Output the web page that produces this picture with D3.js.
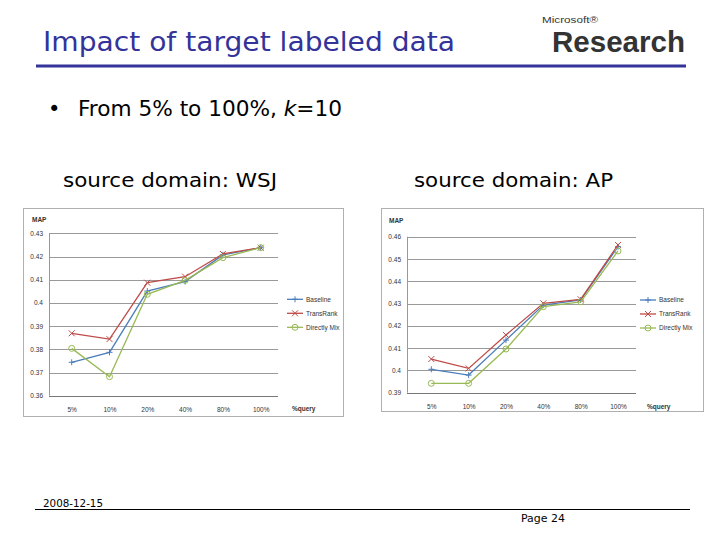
<!DOCTYPE html>
<html>
<head>
<meta charset="utf-8">
<script src="https://cdn.jsdelivr.net/npm/d3@7"></script>
<style>
  body { margin: 0; background: #fff; }
  svg { display: block; }
</style>
</head>
<body>
<div id="slide"></div>
<script>
// categories and series
const queryPct = ["5%", "10%", "20%", "40%", "80%", "100%"];
const seriesNames = ["Baseline", "TransRank", "Directly Mix"];

const wsjBaseline = [0.3744, 0.3787, 0.4051, 0.4092, 0.4207, 0.4238];
const wsjTransRank = [0.3869, 0.3844, 0.4087, 0.4113, 0.4211, 0.4238];
const wsjDirectMix = [0.3804, 0.3682, 0.4037, 0.4097, 0.4195, 0.4238];
const wsjTicks = [0.36, 0.37, 0.38, 0.39, 0.4, 0.41, 0.42, 0.43];

const apBaseline = [0.4005, 0.3979, 0.4136, 0.4293, 0.4316, 0.4555];
const apTransRank = [0.4051, 0.4009, 0.4159, 0.4301, 0.4319, 0.4563];
const apDirectMix = [0.3942, 0.3942, 0.4096, 0.4286, 0.4308, 0.4536];
const apTicks = [0.39, 0.4, 0.41, 0.42, 0.43, 0.44, 0.45, 0.46];

const colors = ["#4a7ebb", "#be4b48", "#98b954"];
const navy = "#333399";

const svg = d3.select("#slide").append("svg")
  .attr("width", 720)
  .attr("height", 540);

// title
svg.append("text")
  .attr("x", 43).attr("y", 51)
  .attr("font-family", "DejaVu Sans")
  .attr("font-size", 26)
  .attr("textLength", 412)
  .attr("lengthAdjust", "spacingAndGlyphs")
  .attr("fill", navy)
  .text("Impact of target labeled data");

svg.append("line")
  .attr("x1", 36).attr("x2", 686)
  .attr("y1", 66).attr("y2", 66)
  .attr("stroke", navy).attr("stroke-width", 3);

// logo
svg.append("text")
  .attr("x", 542).attr("y", 23)
  .attr("font-family", "Liberation Sans")
  .attr("font-size", 9)
  .attr("textLength", 56)
  .attr("lengthAdjust", "spacingAndGlyphs")
  .attr("fill", "#333")
  .text("Microsoft\u00AE");
svg.append("text")
  .attr("x", 552).attr("y", 52)
  .attr("font-family", "Liberation Sans")
  .attr("font-weight", "bold")
  .attr("font-size", 30)
  .attr("textLength", 133)
  .attr("lengthAdjust", "spacingAndGlyphs")
  .attr("fill", "#333")
  .text("Research");

// bullet
svg.append("text")
  .attr("x", 48).attr("y", 116)
  .attr("font-family", "DejaVu Sans")
  .attr("font-size", 21)
  .text("\u2022");
const bullet = svg.append("text")
  .attr("x", 78).attr("y", 116)
  .attr("font-family", "DejaVu Sans")
  .attr("font-size", 21)
  .attr("textLength", 264)
  .attr("lengthAdjust", "spacingAndGlyphs")
  .attr("fill", "#000");
bullet.append("tspan").text("From 5% to 100%, ");
bullet.append("tspan").attr("font-style", "italic").text("k");
bullet.append("tspan").text("=10");

svg.append("text")
  .attr("x", 63).attr("y", 187)
  .attr("font-family", "DejaVu Sans")
  .attr("font-size", 20)
  .attr("textLength", 214)
  .attr("lengthAdjust", "spacingAndGlyphs")
  .text("source domain: WSJ");
svg.append("text")
  .attr("x", 414).attr("y", 187)
  .attr("font-family", "DejaVu Sans")
  .attr("font-size", 20)
  .attr("textLength", 199)
  .attr("lengthAdjust", "spacingAndGlyphs")
  .text("source domain: AP");

// footer
svg.append("text")
  .attr("x", 43).attr("y", 507)
  .attr("font-family", "DejaVu Sans")
  .attr("font-size", 11)
  .attr("textLength", 60)
  .attr("lengthAdjust", "spacingAndGlyphs")
  .text("2008-12-15");
svg.append("line")
  .attr("x1", 35).attr("x2", 690)
  .attr("y1", 509.5).attr("y2", 509.5)
  .attr("stroke", "#000").attr("stroke-width", 1);
svg.append("text")
  .attr("x", 521).attr("y", 522)
  .attr("font-family", "DejaVu Sans")
  .attr("font-size", 11)
  .attr("textLength", 44)
  .attr("lengthAdjust", "spacingAndGlyphs")
  .text("Page 24");

function drawChart(cfg) {
  const g = svg.append("g");

  g.append("rect")
    .attr("x", cfg.frame[0]).attr("y", cfg.frame[1])
    .attr("width", cfg.frame[2]).attr("height", cfg.frame[3])
    .attr("fill", "#fff")
    .attr("stroke", "#b0b0b0");

  const x = d3.scalePoint()
    .domain(queryPct)
    .range([cfg.xFirst, cfg.xLast]);

  const y = d3.scaleLinear()
    .domain(d3.extent(cfg.ticks))
    .range([cfg.yBottom, cfg.yTop]);

  // gridlines
  g.append("g")
    .selectAll("line")
    .data(cfg.ticks)
    .join("line")
    .attr("x1", cfg.left).attr("x2", cfg.right)
    .attr("y1", d => Math.round(y(d)) + 0.5)
    .attr("y2", d => Math.round(y(d)) + 0.5)
    .attr("stroke", (d, i) => i === 0 ? "#777" : "#999")
    .attr("stroke-width", 1);

  g.append("line")
    .attr("x1", cfg.left + 0.5).attr("x2", cfg.left + 0.5)
    .attr("y1", y(cfg.ticks[cfg.ticks.length - 1]))
    .attr("y2", y(cfg.ticks[0]))
    .attr("stroke", "#999");

  const yAxis = g.append("g")
    .attr("transform", `translate(${cfg.left - 3},0)`)
    .call(d3.axisLeft(y).tickValues(cfg.ticks).tickSize(0).tickFormat(d => d3.format("")(+d.toFixed(2))));
  yAxis.select(".domain").remove();

  const xAxis = g.append("g")
    .attr("transform", `translate(0,${cfg.yBottom + 9})`)
    .call(d3.axisBottom(x).tickSize(0));
  xAxis.select(".domain").remove();

  g.selectAll(".tick text")
    .attr("font-family", "Liberation Sans")
    .attr("font-size", 6.5)
    .attr("fill", "#333");

  g.append("text")
    .attr("x", cfg.mapLabel[0]).attr("y", cfg.mapLabel[1])
    .attr("font-family", "Liberation Sans")
    .attr("font-size", 6.5)
    .attr("font-weight", "bold")
    .attr("fill", "#333")
    .text("MAP");

  g.append("text")
    .attr("x", cfg.queryLabel[0]).attr("y", cfg.queryLabel[1])
    .attr("font-family", "Liberation Sans")
    .attr("font-size", 6.5)
    .attr("font-weight", "bold")
    .attr("fill", "#333")
    .text("%query");

  const line = d3.line()
    .x((d, i) => x(queryPct[i]))
    .y(d => y(d));

  const markers = [
    sel => sel.append("path").attr("d", "M-3,0H3M0,-3V3"),
    sel => sel.append("path").attr("d", "M-3,-3L3,3M-3,3L3,-3"),
    sel => sel.append("circle").attr("r", 3).attr("fill", "none")
  ];

  cfg.series.forEach((vals, k) => {
    g.append("path")
      .datum(vals)
      .attr("fill", "none")
      .attr("stroke", colors[k])
      .attr("stroke-width", 1.3)
      .attr("d", line);

    vals.forEach((v, i) => {
      const m = g.append("g")
        .attr("transform", `translate(${x(queryPct[i])},${y(v)})`)
        .attr("stroke", colors[k])
        .attr("stroke-width", 1)
        .attr("fill", "none");
      markers[k](m);
    });

    // legend
    const ly = cfg.legend[1] + k * 14;
    g.append("line")
      .attr("x1", cfg.legend[0]).attr("x2", cfg.legend[0] + 16)
      .attr("y1", ly).attr("y2", ly)
      .attr("stroke", colors[k]).attr("stroke-width", 1.3);
    const lm = g.append("g")
      .attr("transform", `translate(${cfg.legend[0] + 8},${ly})`)
      .attr("stroke", colors[k]).attr("stroke-width", 1).attr("fill", "none");
    markers[k](lm);
    g.append("text")
      .attr("x", cfg.legend[0] + 19).attr("y", ly + 2.3)
      .attr("font-family", "Liberation Sans")
      .attr("font-size", 6.5)
      .attr("fill", "#333")
      .text(seriesNames[k]);
  });
}

drawChart({
  frame: [23.5, 208.5, 320, 208],
  left: 49, right: 278,
  xFirst: 71.7, xLast: 260.7,
  yTop: 233.3, yBottom: 395.7,
  ticks: wsjTicks,
  series: [wsjBaseline, wsjTransRank, wsjDirectMix],
  legend: [287, 299.3],
  mapLabel: [32, 222],
  queryLabel: [292, 411]
});

drawChart({
  frame: [381.5, 208.5, 322, 203],
  left: 407, right: 636,
  xFirst: 431.3, xLast: 618,
  yTop: 236.7, yBottom: 392.7,
  ticks: apTicks,
  series: [apBaseline, apTransRank, apDirectMix],
  legend: [640, 300],
  mapLabel: [389, 223],
  queryLabel: [647, 409]
});
</script>
</body>
</html>
